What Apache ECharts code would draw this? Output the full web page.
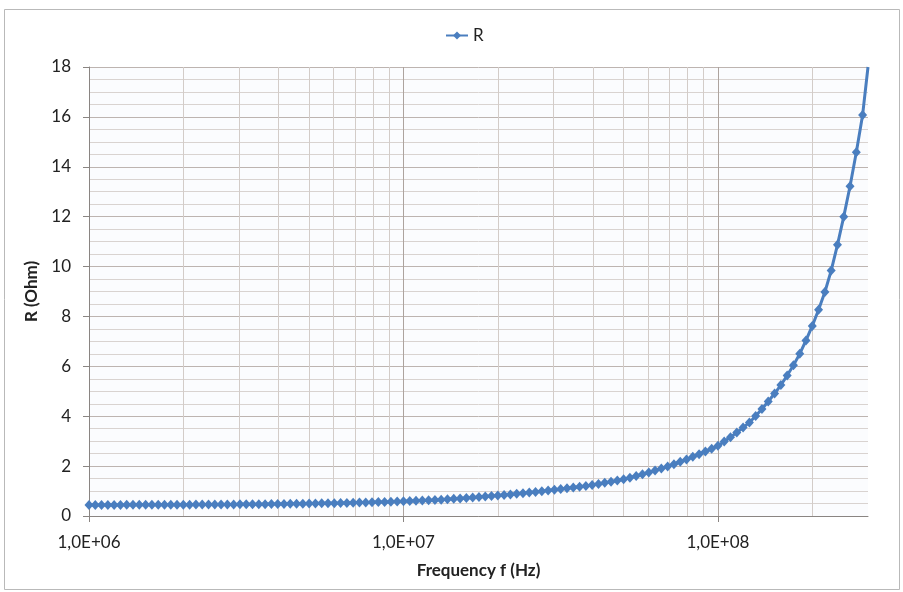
<!DOCTYPE html>
<html>
<head>
<meta charset="utf-8">
<script src="https://cdn.jsdelivr.net/npm/echarts@6/dist/echarts.min.js"></script>
<style>
  html, body { margin: 0; padding: 0; background: #ffffff; }
  #chart { width: 903px; height: 592px; }
</style>
</head>
<body>
<div id="chart"></div>
<script>
// Frequency sweep (Hz), log-spaced, 50 points per decade
const freqHz = [
  1.000e6, 1.047e6, 1.096e6, 1.148e6, 1.202e6, 1.259e6, 1.318e6, 1.380e6, 1.445e6, 1.514e6,
  1.585e6, 1.660e6, 1.738e6, 1.820e6, 1.905e6, 1.995e6, 2.089e6, 2.188e6, 2.291e6, 2.399e6,
  2.512e6, 2.630e6, 2.754e6, 2.884e6, 3.020e6, 3.162e6, 3.311e6, 3.467e6, 3.631e6, 3.802e6,
  3.981e6, 4.169e6, 4.365e6, 4.571e6, 4.786e6, 5.012e6, 5.248e6, 5.495e6, 5.754e6, 6.026e6,
  6.310e6, 6.607e6, 6.918e6, 7.244e6, 7.586e6, 7.943e6, 8.318e6, 8.710e6, 9.120e6, 9.550e6,
  1.000e7, 1.047e7, 1.096e7, 1.148e7, 1.202e7, 1.259e7, 1.318e7, 1.380e7, 1.445e7, 1.514e7,
  1.585e7, 1.660e7, 1.738e7, 1.820e7, 1.905e7, 1.995e7, 2.089e7, 2.188e7, 2.291e7, 2.399e7,
  2.512e7, 2.630e7, 2.754e7, 2.884e7, 3.020e7, 3.162e7, 3.311e7, 3.467e7, 3.631e7, 3.802e7,
  3.981e7, 4.169e7, 4.365e7, 4.571e7, 4.786e7, 5.012e7, 5.248e7, 5.495e7, 5.754e7, 6.026e7,
  6.310e7, 6.607e7, 6.918e7, 7.244e7, 7.586e7, 7.943e7, 8.318e7, 8.710e7, 9.120e7, 9.550e7,
  1.000e8, 1.047e8, 1.096e8, 1.148e8, 1.202e8, 1.259e8, 1.318e8, 1.380e8, 1.445e8, 1.514e8,
  1.585e8, 1.660e8, 1.738e8, 1.820e8, 1.905e8, 1.995e8, 2.089e8, 2.188e8, 2.291e8, 2.399e8,
  2.512e8, 2.630e8, 2.754e8, 2.884e8, 3.000e8
];

// Resistance R (Ohm) at each frequency above
const resistanceOhm = [
  0.440, 0.441, 0.442, 0.443, 0.444, 0.445, 0.446, 0.447, 0.448, 0.449,
  0.450, 0.451, 0.452, 0.453, 0.454, 0.455, 0.456, 0.457, 0.458, 0.459,
  0.460, 0.462, 0.464, 0.466, 0.468, 0.470, 0.472, 0.474, 0.476, 0.478,
  0.480, 0.484, 0.488, 0.492, 0.496, 0.500, 0.504, 0.508, 0.512, 0.516,
  0.520, 0.526, 0.532, 0.538, 0.544, 0.550, 0.558, 0.566, 0.574, 0.582,
  0.590, 0.600, 0.610, 0.620, 0.630, 0.640, 0.655, 0.671, 0.687, 0.703,
  0.720, 0.739, 0.758, 0.778, 0.799, 0.820, 0.843, 0.866, 0.890, 0.915,
  0.940, 0.966, 0.993, 1.021, 1.050, 1.080, 1.110, 1.141, 1.173, 1.206,
  1.240, 1.283, 1.328, 1.374, 1.421, 1.470, 1.534, 1.601, 1.671, 1.744,
  1.820, 1.902, 1.988, 2.078, 2.172, 2.270, 2.371, 2.476, 2.585, 2.700,
  2.820, 2.986, 3.161, 3.346, 3.543, 3.751, 4.012, 4.291, 4.590, 4.909,
  5.251, 5.630, 6.040, 6.500, 7.040, 7.620, 8.270, 8.980, 9.840, 10.870,
  12.000, 13.220, 14.580, 16.080, 18.000
];

// Minor vertical grid positions (2..9 of each decade)
const minorFreqLines = [
  2e6, 3e6, 4e6, 5e6, 6e6, 7e6, 8e6, 9e6,
  2e7, 3e7, 4e7, 5e7, 6e7, 7e7, 8e7, 9e7,
  2e8
];

const xRange = [1e6, 3e8];
const yRange = [0, 18];
const yStep = 2;

const FONT = 'Lato, "Open Sans", sans-serif';
const TEXT_COLOR = '#222222';

function sciLabel(v) {
  const exp = Math.floor(Math.log10(v) + 1e-9);
  const mant = v / Math.pow(10, exp);
  const sign = exp < 0 ? '-' : '+';
  return mant.toFixed(1).replace('.', ',') + 'E' + sign + String(Math.abs(exp)).padStart(2, '0');
}

const lastIdx = freqHz.length - 1;
const seriesData = freqHz.map((f, i) => {
  const pt = [f, resistanceOhm[i]];
  return i === lastIdx ? { value: pt, symbol: 'none' } : pt;
});

const chart = echarts.init(document.getElementById('chart'), null, { renderer: 'canvas' });

chart.setOption({
  animation: false,
  backgroundColor: '#ffffff',
  textStyle: { fontFamily: FONT },
  graphic: [{
    type: 'rect',
    silent: true,
    z: -10,
    shape: { x: 4.5, y: 9.5, width: 895, height: 580 },
    style: { fill: 'none', stroke: '#b9b9b9', lineWidth: 1 }
  }],
  legend: {
    left: 440,
    top: 22,
    itemWidth: 22,
    itemHeight: 10,
    itemGap: 4,
    textStyle: { fontFamily: FONT, fontSize: 17, color: TEXT_COLOR },
    data: ['R']
  },
  grid: {
    left: 89, top: 67, width: 779, height: 449,
    show: true, backgroundColor: '#fbfcfe', borderWidth: 0,
    containLabel: false
  },
  xAxis: {
    type: 'log',
    logBase: 10,
    min: xRange[0],
    max: xRange[1],
    splitNumber: 3,
    name: 'Frequency f (Hz)',
    nameLocation: 'middle',
    nameGap: 46,
    nameTextStyle: { fontFamily: FONT, fontSize: 17, fontWeight: 'bold', color: TEXT_COLOR },
    axisLine: { show: true, lineStyle: { color: '#8a8582', width: 1 } },
    axisTick: { show: true, length: 6, lineStyle: { color: '#8a8582' } },
    axisLabel: {
      formatter: sciLabel,
      showMaxLabel: false,
      margin: 18,
      fontFamily: FONT, fontSize: 17, color: TEXT_COLOR
    },
    splitLine: { show: true, showMaxLine: false, lineStyle: { color: '#ada39e', width: 1 } },
    minorTick: { show: false },
    minorSplitLine: { show: false }
  },
  yAxis: {
    type: 'value',
    min: yRange[0],
    max: yRange[1],
    interval: yStep,
    name: 'R (Ohm)',
    nameLocation: 'middle',
    nameGap: 45,
    nameRotate: 90,
    nameTextStyle: { fontFamily: FONT, fontSize: 17, fontWeight: 'bold', color: TEXT_COLOR },
    axisLine: { show: true, lineStyle: { color: '#8a8582', width: 1 } },
    axisTick: { show: true, length: 6, lineStyle: { color: '#8a8582' } },
    axisLabel: { margin: 18, fontFamily: FONT, fontSize: 17, color: TEXT_COLOR },
    splitLine: { show: true, lineStyle: { color: '#bdb4b0', width: 1 } },
    minorTick: { show: false, splitNumber: 4 },
    minorSplitLine: { show: true, lineStyle: { color: '#d9d3d0', width: 1 } }
  },
  series: [
    {
      // carrier for the minor vertical grid lines
      name: 'minor-grid',
      type: 'line',
      data: [[xRange[0], yRange[0]]],
      showSymbol: false,
      symbol: 'none',
      lineStyle: { opacity: 0 },
      silent: true,
      z: 1,
      legendHoverLink: false,
      markLine: {
        silent: true,
        symbol: ['none', 'none'],
        label: { show: false },
        emphasis: { disabled: true },
        animation: false,
        lineStyle: { color: '#d3ccc8', width: 1, type: 'solid' },
        data: minorFreqLines.map(f => ({ xAxis: f }))
      }
    },
    {
      name: 'R',
      type: 'line',
      data: seriesData,
      z: 5,
      symbol: 'diamond',
      symbolSize: [9, 10],
      showAllSymbol: true,
      clip: true,
      itemStyle: { color: '#4a7ebf' },
      lineStyle: { color: '#4a7ebf', width: 3 }
    }
  ]
});
</script>
</body>
</html>
